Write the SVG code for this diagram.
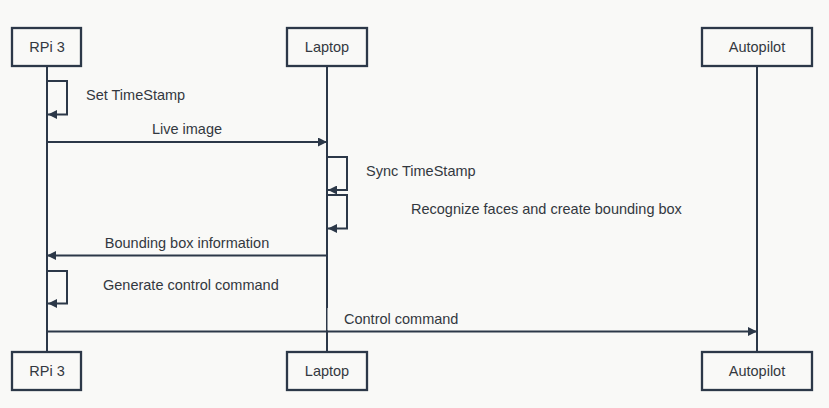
<svg xmlns="http://www.w3.org/2000/svg" width="829" height="408" viewBox="0 0 829 408">
<style>
.box{fill:#f9f9f7;stroke:#2c3848;stroke-width:2.3}
.ll{stroke:#2c3848;stroke-width:2;fill:none}
.msg{stroke:#2c3848;stroke-width:2;fill:none}
text{font-family:"Liberation Sans",Arial,sans-serif;font-size:14.5px;fill:#333840}
.c{text-anchor:middle}
</style>
<defs>
<marker id="ah" viewBox="0 0 10 10" refX="10" refY="5" markerWidth="10" markerHeight="9" markerUnits="userSpaceOnUse" orient="auto">
<path d="M0,0 L10,5 L0,10 Z" fill="#2c3848"/>
</marker>
</defs>
<rect width="829" height="408" fill="#f9f9f7"/>
<g id="lifelines">
<line class="ll" x1="47" y1="66" x2="47" y2="352"/>
<line class="ll" x1="327" y1="66" x2="327" y2="352"/>
<line class="ll" x1="757" y1="66" x2="757" y2="352"/>
</g>
<g id="rpi-top"><rect class="box" x="12" y="28" width="69" height="38"/><text class="c" x="47" y="52">RPi 3</text></g>
<g id="laptop-top"><rect class="box" x="287" y="28" width="80" height="38"/><text class="c" x="327" y="52">Laptop</text></g>
<g id="autopilot-top"><rect class="box" x="702" y="28" width="110" height="38"/><text class="c" x="757" y="52">Autopilot</text></g>
<g id="rpi-bottom"><rect class="box" x="12" y="352" width="69" height="38"/><text class="c" x="47" y="376">RPi 3</text></g>
<g id="laptop-bottom"><rect class="box" x="287" y="352" width="80" height="38"/><text class="c" x="327" y="376">Laptop</text></g>
<g id="autopilot-bottom"><rect class="box" x="702" y="352" width="110" height="38"/><text class="c" x="757" y="376">Autopilot</text></g>
<g id="connectors">
<path class="msg" d="M47,81 H67 V114.5 H48" marker-end="url(#ah)"/>
<text x="86" y="100">Set TimeStamp</text>
<line class="msg" x1="47" y1="142" x2="327" y2="142" marker-end="url(#ah)"/>
<text class="c" x="187" y="134">Live image</text>
<path class="msg" d="M327,157 H347 V190 H328" marker-end="url(#ah)"/>
<text x="366" y="176">Sync TimeStamp</text>
<path class="msg" d="M327,195 H347 V228.5 H328" marker-end="url(#ah)"/>
<text x="411" y="214">Recognize faces and create bounding box</text>
<line class="msg" x1="327" y1="255.5" x2="47" y2="255.5" marker-end="url(#ah)"/>
<text class="c" x="187" y="248">Bounding box information</text>
<path class="msg" d="M47,271 H67 V303.5 H48" marker-end="url(#ah)"/>
<text x="103" y="290">Generate control command</text>
<rect x="327.5" y="308" width="140" height="22.5" fill="#f9f9f7"/>
<line class="msg" x1="47" y1="331.5" x2="757" y2="331.5" marker-end="url(#ah)"/>
<text x="344" y="324">Control command</text>
</g>
</svg>
